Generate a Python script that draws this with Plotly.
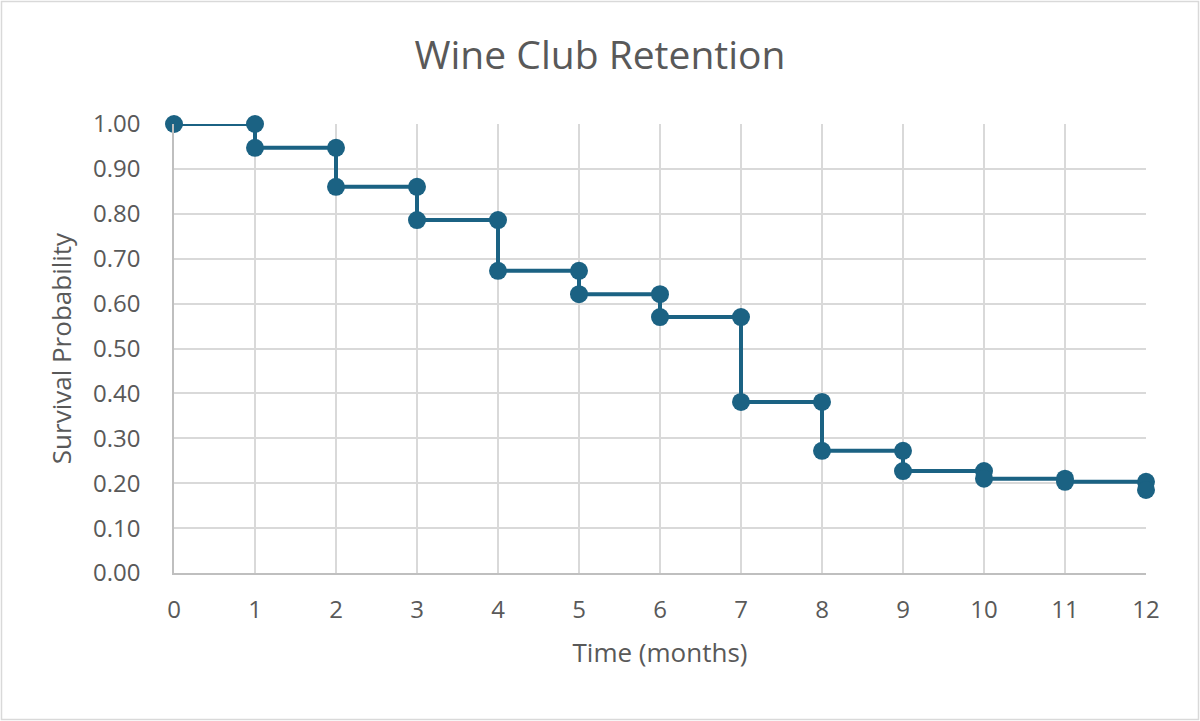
import plotly.graph_objects as go

months = list(range(0, 13))
survival = [1.000, 0.947, 0.860, 0.786, 0.673, 0.621, 0.570, 0.381, 0.272, 0.227, 0.210, 0.203, 0.185]
title_text = "Wine Club Retention"
x_title = "Time (months)"
y_title = "Survival Probability"
y_ticks = [i / 10 for i in range(0, 11)]

# step-function vertices
xs = [months[0]]
ys = [survival[0]]
for i in range(1, len(months)):
    xs += [months[i], months[i]]
    ys += [survival[i - 1], survival[i]]

W, H = 1200, 721
L, R, T, B = 174, 54, 124, 148
pw, ph = W - L - R, H - T - B

fig = go.Figure()
fig.add_trace(go.Scatter(
    x=xs, y=ys, mode="lines+markers",
    line=dict(color="#1B6283", width=4),
    marker=dict(color="#1B6283", size=18),
    cliponaxis=False, showlegend=False,
))

font = "Open Sans, Lato, sans-serif"
fig.update_layout(
    width=W, height=H,
    margin=dict(l=L, r=R, t=T, b=B),
    paper_bgcolor="white", plot_bgcolor="white",
    title=dict(text=title_text, x=0.5, xanchor="center", y=1 - 55 / H, yanchor="middle",
               font=dict(family=font, size=39, color="#595959")),
    font=dict(family=font, color="#595959"),
    xaxis=dict(range=[0, 12], tickmode="array", tickvals=months,
               showgrid=True, gridcolor="#D9D9D9", gridwidth=1.5,
               showline=True, linecolor="#BFBFBF", linewidth=1.5,
               zeroline=False, ticks="", ticklabelstandoff=14,
               tickfont=dict(size=24, color="#595959"),
               title=dict(text=x_title, font=dict(size=26, color="#595959"), standoff=20)),
    yaxis=dict(range=[0, 1.0], tickmode="array", tickvals=y_ticks, tickformat=".2f",
               showgrid=True, gridcolor="#D9D9D9", gridwidth=1.5,
               showline=True, linecolor="#BFBFBF", linewidth=1.5,
               zeroline=False, ticks="", ticklabelstandoff=27,
               tickfont=dict(size=24, color="#595959"),
               title=dict(text=y_title, font=dict(size=26, color="#595959"), standoff=14)),
    shapes=[dict(type="rect", xref="paper", yref="paper",
                 x0=(1.5 - L) / pw, x1=(W - 1.5 - L) / pw,
                 y0=(H - B - (H - 1.5)) / ph, y1=(H - B - 1.5) / ph,
                 line=dict(color="#D9D9D9", width=1.5), fillcolor="rgba(0,0,0,0)", layer="below")],
)

fig.write_html("out.html", config={"displayModeBar": False},
               post_script="document.body.style.margin='0';document.body.style.overflow='hidden';")
